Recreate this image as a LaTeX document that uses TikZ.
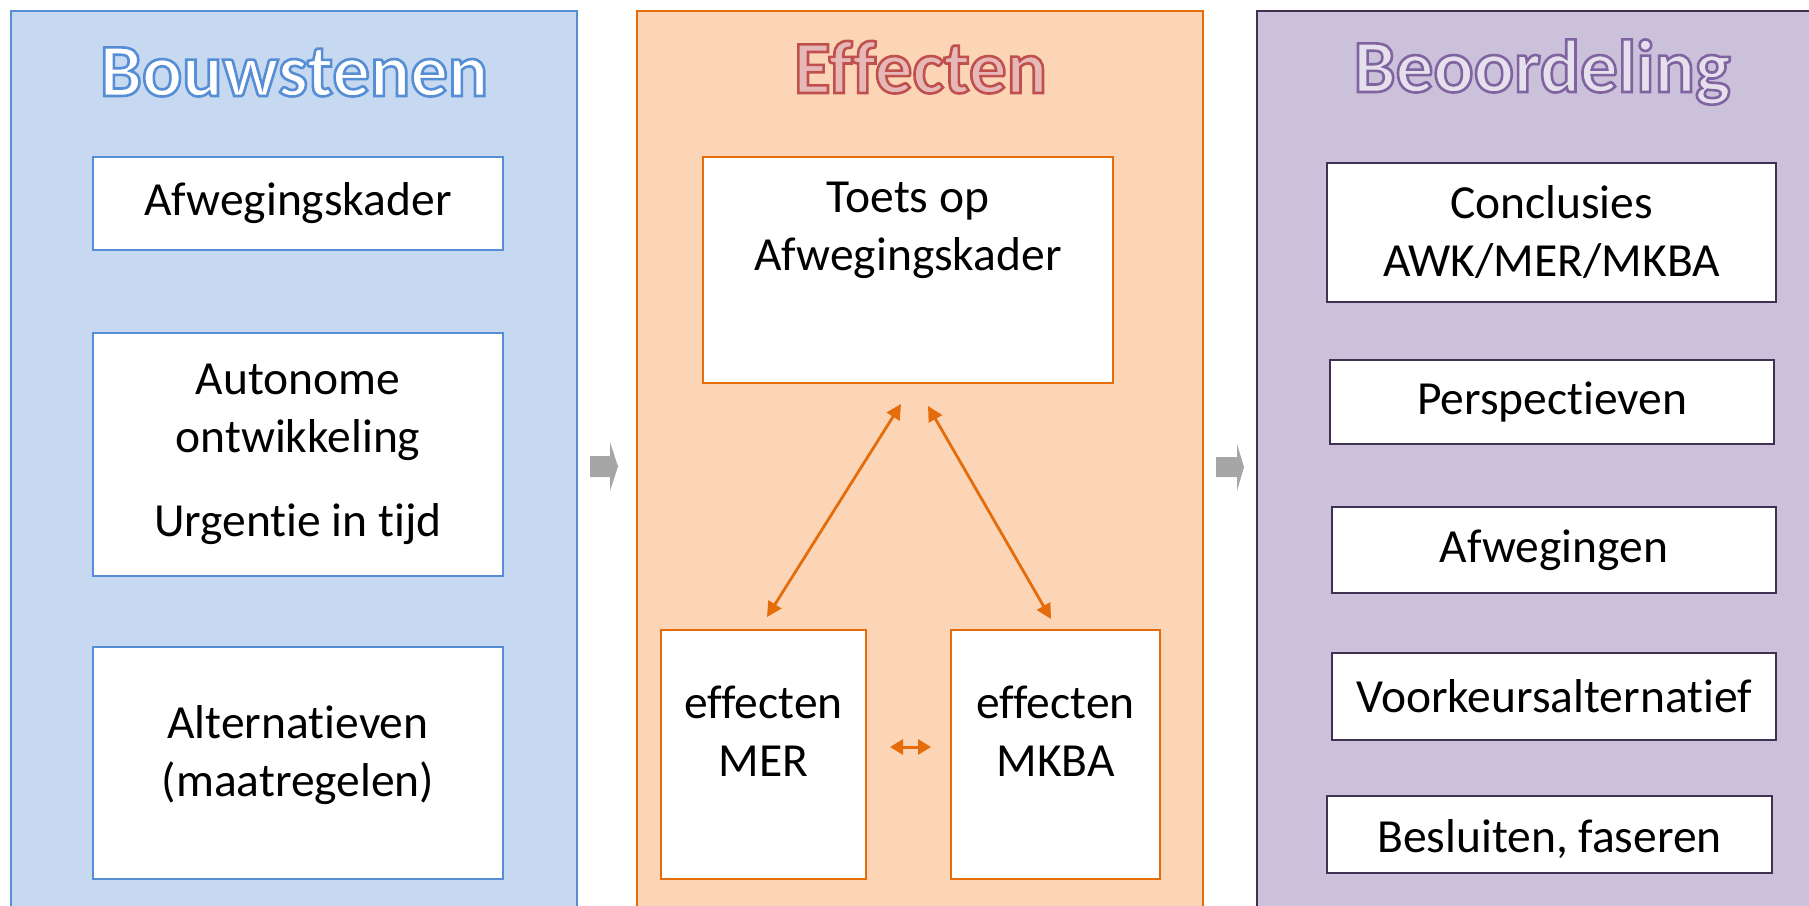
\documentclass[tikz,border=0pt]{standalone}
\usepackage{fontspec}
\setmainfont{Carlito}[Ligatures=NoCommon]
\newfontfamily\ttlfont{Carlito}[Ligatures=NoCommon,BoldFeatures={FakeBold=3.5}]
\usetikzlibrary{arrows.meta,calc}
\definecolor{bluefill}{HTML}{C6D9F1}
\definecolor{blueline}{HTML}{558ED5}
\definecolor{orfill}{HTML}{FBD5B5}
\definecolor{orline}{HTML}{E46C0A}
\definecolor{pufill}{HTML}{CCC1DA}
\definecolor{puline}{HTML}{403152}
\definecolor{arrgray}{HTML}{A6A6A6}
% fill colour / stroke colour for outlined titles (xdvipdfmx)
\newcommand\outlined[3]{\special{pdf:bcolor [#1] [#2]}#3\special{pdf:ecolor}}
\begin{document}
\begin{tikzpicture}[x=1pt,y=-1pt,
  panelB/.style={draw=blueline,fill=bluefill,line width=2pt},
  panelO/.style={draw=orline,fill=orfill,line width=2pt},
  panelP/.style={draw=puline,fill=pufill,line width=2pt},
  box/.style={fill=white,line width=2.2pt,inner sep=0pt,outer sep=0pt,align=center,
    font=\fontsize{47.5}{58}\selectfont},
  bbox/.style={box,draw=blueline},
  obox/.style={box,draw=orline},
  pbox/.style={box,draw=puline},
  txt/.style={align=center,inner sep=0pt,font=\fontsize{47.5}{58}\selectfont},
  ttl/.style={anchor=base,inner sep=0pt,font=\fontsize{75}{80}\selectfont\ttlfont\bfseries},
  link/.style={draw=orline,line width=2.8pt,
    {Triangle[length=15pt,width=15pt]}-{Triangle[length=15pt,width=15pt]}},
  smalllink/.style={draw=orline,line width=3pt,
    {Triangle[length=13pt,width=15pt]}-{Triangle[length=13pt,width=15pt]}},
  blockarrow/.style={fill=arrgray},
]
\useasboundingbox (0,0) rectangle (1809,905);
\clip (0,0) rectangle (1809,905);

% panels
\draw[panelB] (11,11) rectangle (577,930);
\draw[panelO] (637,11) rectangle (1203,930);
\draw[panelP] (1257,11) rectangle (1840,930);

% titles (fill + outline)
\node[ttl] (tB) at (294,96) {\outlined{1 1 1}{0.333 0.557 0.835}{Bouwstenen}};
\node[ttl] (tE) at (920.5,93) {\outlined{0.902 0.725 0.722}{0.753 0.314 0.302}{Effecten}};
\node[ttl] (tO) at (1542,92) {\outlined{0.902 0.878 0.925}{0.502 0.392 0.635}{Beoordeling}};

% Bouwstenen column
\node[bbox,minimum width=410pt,minimum height=93pt] (afw) at (298,203.5) {Afwegingskader};
\node[bbox,minimum width=410pt,minimum height=243pt] (auto) at (298,454.5)
  {Autonome\\ontwikkeling\\[26pt]Urgentie in tijd};
\node[bbox,minimum width=410pt,minimum height=232pt] (alt) at (298,763) {};
\node[txt] (altT) at (298,755) {Alternatieven\\(maatregelen)};

% Effecten column
\node[obox,minimum width=410pt,minimum height=226pt] (toets) at (908,270) {};
\node[txt] (toetsT) at (908,230) {Toets op\\Afwegingskader};
\node[obox,minimum width=205pt,minimum height=249pt] (mer) at (763.5,754.5) {};
\node[txt] (merT) at (763.5,731) {effecten\\MER};
\node[obox,minimum width=209pt,minimum height=249pt] (mkba) at (1055.5,754.5) {};
\node[txt] (mkbaT) at (1055.5,731) {effecten\\MKBA};

\draw[link] ($(mer.north)+(3.5,-13)$) -- ($(toets.south)+(-7,21)$);
\draw[link] ($(mkba.north)+(-4.5,-11)$) -- ($(toets.south)+(20,23)$);
\draw[smalllink] ($(mer.east)+(24,-7.5)$) -- ($(mkba.west)+(-20,-7.5)$);

% Beoordeling column
\node[pbox,minimum width=449pt,minimum height=139pt] (concl) at (1551.5,232.5) {Conclusies\\AWK/MER/MKBA};
\node[pbox,minimum width=444pt,minimum height=84pt] (persp) at (1552,402) {Perspectieven};
\node[pbox,minimum width=444pt,minimum height=86pt] (afwg) at (1554,550) {Afwegingen};
\node[pbox,minimum width=444pt,minimum height=87pt] (voork) at (1554,696.5) {Voorkeursalternatief};
\node[pbox,minimum width=445pt,minimum height=77pt] (besl) at (1549.5,834.5) {};
\node[txt] (beslT) at (1549.5,839) {Besluiten, faseren};

% grey block arrows between panels
\fill[blockarrow] (590,456) -- (610,456) -- (610,442) -- (618,466.5) -- (610,491) -- (610,477) -- (590,477) -- cycle;
\fill[blockarrow] (1216,457) -- (1237,457) -- (1237,444) -- (1244,467) -- (1237,491) -- (1237,477) -- (1216,477) -- cycle;
\end{tikzpicture}
\end{document}
